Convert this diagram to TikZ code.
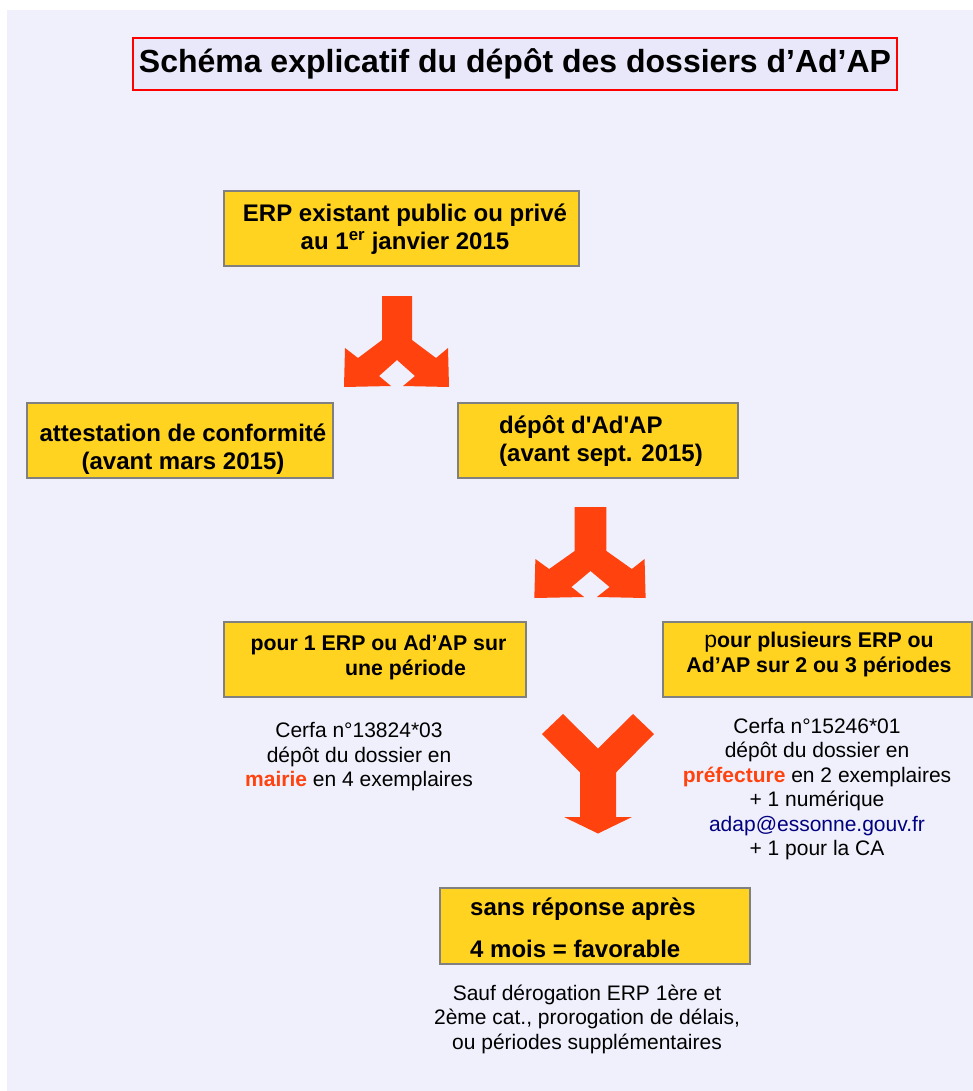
\documentclass[tikz,border=0pt]{standalone}
\usepackage{fontspec}
\setmainfont{Liberation Sans}[Ligatures=TeXOff]

\definecolor{pagebg}{RGB}{240,240,252}
\definecolor{titlebg}{RGB}{232,232,250}
\definecolor{boxyellow}{HTML}{FFD320}
\definecolor{arroworange}{HTML}{FF420E}
\definecolor{mailblue}{HTML}{000080}

\tikzset{
	box/.style={draw=gray, line width=1.2pt, fill=boxyellow, inner sep=0pt},
	boxtext/.style={font=\fontsize{24}{28}\selectfont\bfseries, align=center, inner sep=0pt},
	smallboxtext/.style={boxtext, font=\fontsize{21.3}{25}\selectfont\bfseries},
	bodytext/.style={font=\fontsize{21}{24.5}\selectfont, align=center, inner sep=0pt},
	bigarrow/.style={fill=arroworange}
}

\begin{document}
\begin{tikzpicture}[x=1pt, y=-1pt]
	\useasboundingbox (0,0) rectangle (973,1091);
	\fill[pagebg] (7,10) rectangle (973,1091);

	% title
	\node[draw=red, line width=2pt, fill=titlebg, minimum width=764pt, minimum height=52pt, inner sep=0pt,
		font=\fontsize{32}{36}\selectfont\bfseries] (title) at (515,64) {Schéma explicatif du dépôt des dossiers d’Ad’AP};

	% boxes
	\node[box, minimum width=355pt, minimum height=75pt] (erp) at (401.5,228.5) {};
	\node[box, minimum width=306pt, minimum height=75pt] (att) at (180,440.5) {};
	\node[box, minimum width=280pt, minimum height=75pt] (dep) at (598,440.5) {};
	\node[box, minimum width=302pt, minimum height=75pt] (one) at (375,659.5) {};
	\node[box, minimum width=309pt, minimum height=75pt] (many) at (817.5,659.5) {};
	\node[box, minimum width=310pt, minimum height=76pt] (fav) at (595,926) {};

	\node[boxtext] (erp text) at (405,229) {ERP existant public ou privé\\au 1\textsuperscript{er} janvier 2015};
	\node[boxtext] (att text) at (183,449) {attestation de conformité\\(avant mars 2015)};
	\node[boxtext, align=left] (dep text) at (601,441) {dépôt d'Ad'AP\\(avant sept. 2015)};
	\node[smallboxtext] (one text) at (378.5,657.5) {pour 1 ERP ou Ad’AP sur\\\hspace*{54pt}une période};
	\node[smallboxtext] (many text) at (819,654.5) {{\mdseries\fontsize{23}{25}\selectfont p}our plusieurs ERP ou\\Ad’AP sur 2 ou 3 périodes};
	\node[boxtext, align=left, anchor=west] (fav text) at (470,928) {sans réponse après\\[14pt]4 mois = favorable};

	% notes
	\node[bodytext] (one note) at (359,757) {Cerfa n°13824*03\\dépôt du dossier en\\{\color{arroworange}\bfseries mairie} en 4 exemplaires};
	\node[bodytext] (many note) at (817,789) {Cerfa n°15246*01\\dépôt du dossier en\\{\color{arroworange}\bfseries préfecture} en 2 exemplaires\\+ 1 numérique\\{\color{mailblue}adap@essonne.gouv.fr}\\+ 1 pour la CA};
	\node[bodytext] (fav note) at (587,1019) {Sauf dérogation ERP 1ère et\\2ème cat., prorogation de délais,\\ou périodes supplémentaires};

	% split arrows
	\fill[bigarrow, shift={(397,296)}] (-15,0) -- (15,0) -- (15,44) -- (39,62) -- (51,52) -- (52,91) -- (6,90)
		-- (18,80) -- (0,64) -- (-18,80) -- (-6,90) -- (-53,91) -- (-52,52) -- (-39,62) -- (-15,44) -- cycle;
	\fill[bigarrow, shift={(590.5,507)}, xscale=1.06] (-15,0) -- (15,0) -- (15,44) -- (39,62) -- (51,52) -- (52,91) -- (6,90)
		-- (18,80) -- (0,64) -- (-18,80) -- (-6,90) -- (-53,91) -- (-52,52) -- (-39,62) -- (-15,44) -- cycle;

	% merging arrow
	\fill[bigarrow, shift={(598,714)}] (-56,20) -- (-35,0) -- (0,34.5) -- (35,0) -- (56,20) -- (18,58.5) -- (18,103)
		-- (34,103) -- (0,119.5) -- (-34,103) -- (-18,103) -- (-18,58.5) -- cycle;
\end{tikzpicture}
\end{document}
